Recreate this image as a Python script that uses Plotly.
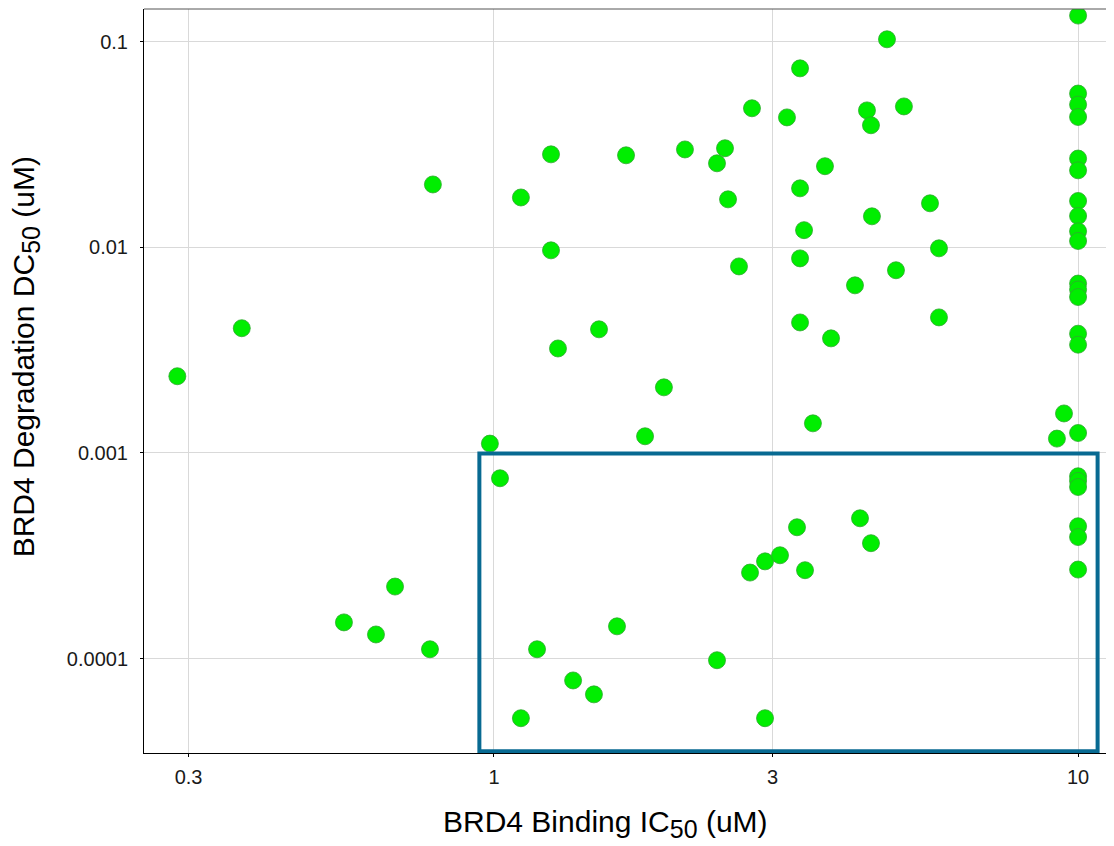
import plotly.graph_objects as go

# BRD4 Binding IC50 (uM)
ic50 = [
    0.287, 0.370, 0.786, 0.5535, 0.628, 0.677, 0.777,
    0.984, 1.024, 1.112, 1.112, 1.185, 1.252, 1.252, 1.287,
    1.366, 1.483, 1.513, 1.624, 1.683, 1.814, 1.954, 2.123,
    2.409, 2.409, 2.486, 2.516, 2.627, 2.744, 2.765, 2.911,
    2.911, 3.088, 3.174, 3.302, 3.342, 3.342, 3.342, 3.342,
    3.395, 3.408, 3.516, 3.687, 3.776, 4.150, 4.233, 4.351,
    4.420, 4.420, 4.437, 4.708, 4.878, 5.033, 5.578, 5.779,
    5.779, 9.46, 9.20,
    10, 10, 10, 10, 10, 10, 10, 10, 10, 10, 10,
    10, 10, 10, 10, 10, 10, 10, 10, 10, 10, 10,
]
# BRD4 Degradation DC50 (uM)
dc50 = [
    0.00236, 0.00404, 0.0202, 0.000150, 0.000131, 0.000224, 0.000111,
    0.00111, 0.000753, 0.01746, 0.0000513, 0.000111, 0.0283, 0.00966, 0.00322,
    0.0000783, 0.0000670, 0.00399, 0.0001435, 0.0280, 0.001205, 0.002084, 0.0299,
    0.0256, 0.0000982, 0.0303, 0.0171, 0.00807, 0.000262, 0.0474, 0.000297,
    0.0000513, 0.000318, 0.0428, 0.000435, 0.0741, 0.01934, 0.00883, 0.00431,
    0.01211, 0.000269, 0.001393, 0.02478, 0.003606, 0.00653, 0.000481, 0.0463,
    0.0392, 0.000364, 0.01414, 0.1026, 0.00773, 0.0484, 0.01636, 0.00988,
    0.00456, 0.001556, 0.001174,
    0.1338, 0.0559, 0.0494, 0.0430, 0.0270, 0.02366, 0.01679, 0.01419, 0.01196, 0.01073, 0.00666,
    0.00623, 0.00573, 0.00380, 0.00336, 0.00125, 0.000770, 0.000731, 0.000683, 0.000440, 0.000390, 0.000271,
]

x_ticks = [0.3, 1, 3, 10]
x_ticktext = ["0.3", "1", "3", "10"]
y_ticks = [0.0001, 0.001, 0.01, 0.1]
y_ticktext = ["0.0001", "0.001", "0.01", "0.1"]

x_title = "BRD4 Binding IC<sub><span style=\"font-size:25px\">50</span></sub> (uM)"
y_title = "BRD4 Degradation DC<sub><span style=\"font-size:25px\">50</span></sub> (uM)"

# highlighted region (IC50 >= ~1 uM, DC50 <= 1 nM)
box_x = [0.944, 10.8]
box_y = [0.0000354, 0.000993]

fig = go.Figure()
fig.add_trace(go.Scatter(
    x=ic50, y=dc50, mode="markers",
    marker=dict(size=17, color="#00ee00", line=dict(color="#2fa82f", width=0.8)),
    showlegend=False,
))

fig.add_shape(type="rect", xref="x", yref="y",
              x0=box_x[0], x1=box_x[1], y0=box_y[0], y1=box_y[1],
              line=dict(color="#086a92", width=4), layer="above")
# top panel border
fig.add_shape(type="line", xref="paper", yref="paper", x0=0, x1=1, y0=1, y1=1,
              line=dict(color="#555555", width=1))

fig.add_annotation(text=x_title, xref="paper", yref="paper", x=0.4753, y=-0.067,
                   xanchor="center", yanchor="top", showarrow=False,
                   font=dict(size=30, color="black"))
fig.add_annotation(text=y_title, xref="paper", yref="paper", x=-0.1215, y=0.532,
                   xanchor="center", yanchor="middle", showarrow=False, textangle=-90,
                   font=dict(size=30, color="black"))

font_family = "Liberation Sans, Arial, sans-serif"
fig.update_layout(
    width=1106, height=838,
    margin=dict(l=136, r=0, t=1, b=93),
    paper_bgcolor="white", plot_bgcolor="white",
    font=dict(family=font_family, color="black"),
    xaxis=dict(
        type="log", range=[-0.5992, 1.0615],
        tickvals=x_ticks, ticktext=x_ticktext,
        tickfont=dict(size=20, color="#1a1a1a"),
        ticks="outside", ticklen=3, tickcolor="black",
        ticklabelstandoff=3,
        showline=True, linecolor="black", linewidth=1,
        showgrid=True, gridcolor="#d9d9d9", gridwidth=1,
        zeroline=False,
    ),
    yaxis=dict(
        type="log", range=[-4.459, -0.8415],
        tickvals=y_ticks, ticktext=y_ticktext,
        tickfont=dict(size=20, color="#1a1a1a"),
        ticks="outside", ticklen=3, tickcolor="black",
        ticklabelstandoff=8,
        showline=True, linecolor="black", linewidth=1,
        showgrid=True, gridcolor="#d9d9d9", gridwidth=1,
        zeroline=False,
    ),
)

fig.write_html("out.html")
